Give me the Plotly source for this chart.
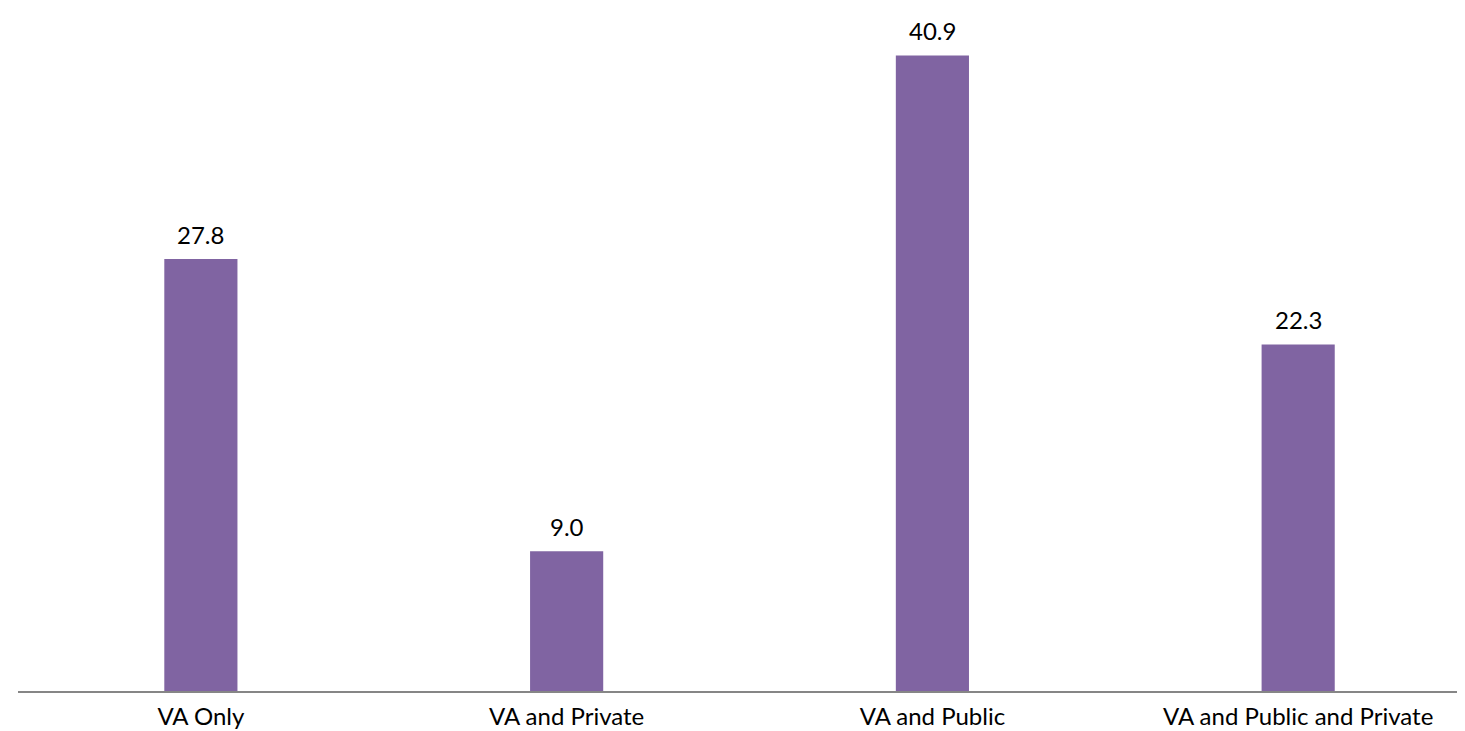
import plotly.graph_objects as go

categories = ["VA Only", "VA and Private", "VA and Public", "VA and Public and Private"]
values = [27.8, 9.0, 40.9, 22.3]

BAR_COLOR = "#8064A2"
FONT = "Lato, 'Open Sans', sans-serif"

fig = go.Figure()
fig.add_trace(go.Bar(
    x=list(range(len(categories))),
    y=values,
    width=0.2,
    marker=dict(color=BAR_COLOR, line=dict(width=0)),
    hoverinfo="skip",
))

for i, v in enumerate(values):
    fig.add_annotation(
        x=i, y=v, text=f"{v:.1f}", showarrow=False,
        yanchor="bottom", xanchor="center", yshift=8,
        font=dict(family=FONT, size=24, color="#000000"),
    )

fig.update_layout(
    width=1465, height=731,
    margin=dict(l=10, r=0, t=0, b=47.5),
    paper_bgcolor="white", plot_bgcolor="white",
    showlegend=False,
    font=dict(family=FONT, size=24, color="#000000"),
    xaxis=dict(
        range=[-0.5, 3.478],
        tickmode="array",
        tickvals=list(range(len(categories))),
        ticktext=categories,
        showgrid=False, zeroline=False,
        showline=True, linecolor="#868686", linewidth=1.5,
        ticks="", ticklabelstandoff=3,
        tickfont=dict(family=FONT, size=24, color="#000000"),
        fixedrange=True,
    ),
    yaxis=dict(
        range=[0, 43.95],
        visible=False, showgrid=False, zeroline=False,
        fixedrange=True,
    ),
)

fig.write_html("out.html")
